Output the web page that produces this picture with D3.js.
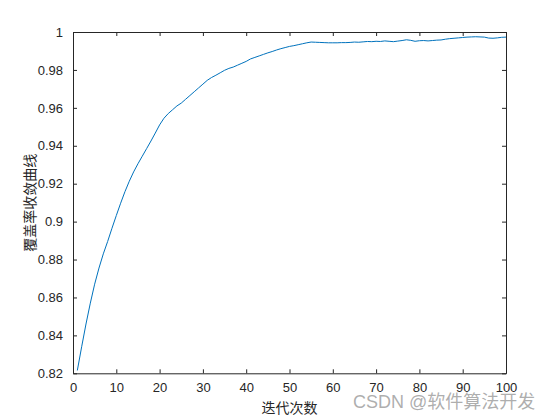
<!DOCTYPE html>
<html><head><meta charset="utf-8">
<script src="https://cdn.jsdelivr.net/npm/d3@7"></script>
<style>body{margin:0;background:#fff}svg{display:block}</style>
</head><body>
<script>
const iterations = d3.range(1, 101);
const coverage = [
0.8215,0.834,0.846,0.857,0.867,0.8755,0.883,0.8895,0.8965,0.9032,
0.9097,0.9158,0.9213,0.9262,0.9305,0.9345,0.9385,0.9425,0.9467,0.951,
0.9545,0.957,0.959,0.961,0.9625,0.9645,0.9665,0.9685,0.9705,0.9725,
0.9745,0.976,0.9772,0.9785,0.9798,0.9808,0.9815,0.9825,0.9835,0.9845,
0.9858,0.9866,0.9874,0.9882,0.989,0.9897,0.9905,0.9912,0.9918,0.9924,
0.9928,0.9933,0.9938,0.9943,0.9947,0.9946,0.9945,0.9944,0.9943,0.9943,
0.9943,0.9944,0.9944,0.9945,0.9947,0.9946,0.9948,0.9950,0.9949,0.9951,
0.9950,0.9953,0.9951,0.9949,0.9952,0.9955,0.9959,0.9956,0.9951,0.9954,
0.9955,0.9953,0.9955,0.9957,0.9958,0.9962,0.9965,0.9967,0.9969,0.9971,
0.9973,0.9974,0.9975,0.9974,0.9973,0.9968,0.9967,0.9969,0.9972,0.9973];
const xTicks = [0,10,20,30,40,50,60,70,80,90,100];
const yTicks = [0.82,0.84,0.86,0.88,0.9,0.92,0.94,0.96,0.98,1];
const xLabel = "迭代次数";
const yLabel = "覆盖率收敛曲线";
const watermark = "CSDN @软件算法开发";

const W = 560, H = 420;
const L = 73, R = 506, T = 32, B = 373.3;
const ink = "#262626";
const svg = d3.select("body").append("svg").attr("width", W).attr("height", H);

const x = d3.scaleLinear().domain([0, 100]).range([L, R]);
const y = d3.scaleLinear().domain([0.82, 1]).range([B, T]);

const fmt = d => d3.format("")(+d.toFixed(2));
const tick = 4;
const font = "Liberation Sans, Arial, sans-serif";

const gx = svg.append("g").attr("transform", `translate(0,${B})`)
  .call(d3.axisBottom(x).tickValues(xTicks).tickSizeInner(-tick).tickSizeOuter(0).tickPadding(9).tickFormat(d3.format("d")));
const gxt = svg.append("g").attr("transform", `translate(0,${T})`)
  .call(d3.axisTop(x).tickValues(xTicks).tickSizeInner(-tick).tickSizeOuter(0).tickFormat(""));
const gy = svg.append("g").attr("transform", `translate(${L},0)`)
  .call(d3.axisLeft(y).tickValues(yTicks).tickSizeInner(-tick).tickSizeOuter(0).tickPadding(10).tickFormat(fmt));
const gyr = svg.append("g").attr("transform", `translate(${R},0)`)
  .call(d3.axisRight(y).tickValues(yTicks).tickSizeInner(-tick).tickSizeOuter(0).tickFormat(""));

[gx, gxt, gy, gyr].forEach(g => {
  g.select(".domain").attr("stroke", ink).attr("stroke-width", 1);
  g.selectAll(".tick line").attr("stroke", ink).attr("stroke-width", 1);
  g.selectAll(".tick text").attr("fill", ink).attr("font-family", font).attr("font-size", 13);
});

svg.append("path")
  .datum(iterations.map((d, i) => [d, coverage[i]]))
  .attr("fill", "none")
  .attr("stroke", "#0072BD")
  .attr("stroke-width", 1)
  .attr("d", d3.line().x(d => x(d[0])).y(d => y(d[1])));

svg.append("text").attr("x", (L + R) / 2).attr("y", 413)
  .attr("text-anchor", "middle").attr("font-family", "Noto Sans CJK SC, sans-serif")
  .attr("font-size", 14).attr("fill", ink).text(xLabel);
svg.append("text").attr("transform", `translate(35,${(T + B) / 2}) rotate(-90)`)
  .attr("text-anchor", "middle").attr("font-family", "Noto Sans CJK SC, sans-serif")
  .attr("font-size", 14).attr("fill", ink).text(yLabel);

svg.append("text").attr("x", 353).attr("y", 408)
  .attr("font-family", "Liberation Sans, Noto Sans CJK SC, sans-serif")
  .attr("font-size", 18).attr("fill", "#a0a0a0").attr("fill-opacity", 0.85).text(watermark);
</script>
</body></html>
